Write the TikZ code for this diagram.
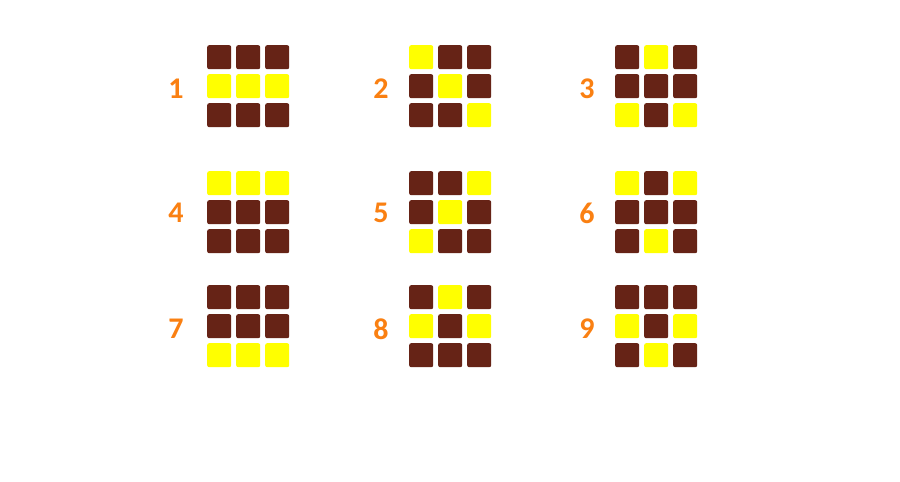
\documentclass[tikz,border=0pt]{standalone}
\usepackage{fontspec}
\setmainfont{Carlito}
\definecolor{brn}{HTML}{662316}
\definecolor{ylw}{HTML}{FFFF00}
\definecolor{org}{HTML}{FA8012}
\tikzset{
  cell/.style={minimum size=24pt, inner sep=0pt, rounded corners=2pt, draw=none, anchor=north west},
  B/.style={cell, fill=brn},
  Y/.style={cell, fill=ylw},
  lbl/.style={text=org, font=\bfseries\fontsize{30}{32}\selectfont, inner sep=0pt}
}
\newcommand\mygrid[4]{%
  \foreach \c [count=\i from 0] in {#4} {
    \pgfmathtruncatemacro\row{\i/3}
    \pgfmathtruncatemacro\col{mod(\i,3)}
    \node[\c] (#1-\i) at ({#2+29*\col}, {#3+29*\row}) {};
  }
}
\begin{document}
\begin{tikzpicture}[x=1pt, y=-1pt]
\useasboundingbox[fill=white] (0,0) rectangle (900,482);
\mygrid{g1}{207}{45}{B,B,B,Y,Y,Y,B,B,B}
\mygrid{g2}{409}{45}{Y,B,B,B,Y,B,B,B,Y}
\mygrid{g3}{615}{45}{B,Y,B,B,B,B,Y,B,Y}
\mygrid{g4}{207}{171}{Y,Y,Y,B,B,B,B,B,B}
\mygrid{g5}{409}{171}{B,B,Y,B,Y,B,Y,B,B}
\mygrid{g6}{615}{171}{Y,B,Y,B,B,B,B,Y,B}
\mygrid{g7}{207}{285}{B,B,B,B,B,B,Y,Y,Y}
\mygrid{g8}{409}{285}{B,Y,B,Y,B,Y,B,B,B}
\mygrid{g9}{615}{285}{B,B,B,Y,B,Y,B,Y,B}
\node[lbl] (l1) at (176,89) {1};
\node[lbl] (l2) at (381,89) {2};
\node[lbl] (l3) at (587,89) {3};
\node[lbl] (l4) at (176,213) {4};
\node[lbl] (l5) at (381,213) {5};
\node[lbl] (l6) at (587,213) {6};
\node[lbl] (l7) at (176,329) {7};
\node[lbl] (l8) at (381,329) {8};
\node[lbl] (l9) at (587,329) {9};
\end{tikzpicture}
\end{document}
